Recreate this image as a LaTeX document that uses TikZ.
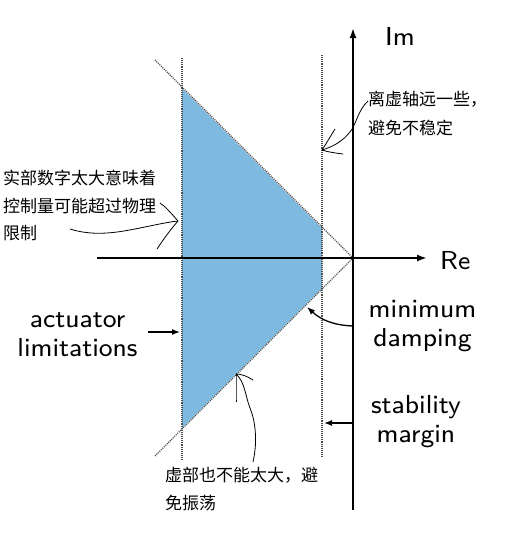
\documentclass[tikz,border=0pt]{standalone}
\usepackage{fontspec}
\newfontfamily\cjk{Noto Sans CJK SC}
\newfontfamily\wsans{lmsans8-regular.otf}
\usetikzlibrary{arrows.meta}
\definecolor{wedge}{RGB}{126,186,223}
\begin{document}
\begin{tikzpicture}[x=1pt,y=-1pt,
  axis/.style={line width=1.8pt,-{Latex[length=10pt,width=7pt]}},
  guide/.style={line width=1.1pt,densely dotted,black!70},
  lab/.style={font=\wsans\fontsize{26}{29}\selectfont,align=center,inner sep=0pt},
  cn/.style={font=\cjk\fontsize{17}{28}\selectfont,align=left,inner sep=0pt,anchor=north west},
  pointer/.style={line width=1.3pt,-{Latex[length=8pt,width=6pt]}},
  hand/.style={line width=0.8pt,black}]
\useasboundingbox (0,0) rectangle (525,533);
% shaded region
\fill[wedge] (182,88) -- (322,228) -- (322,288) -- (182,428) -- cycle;
% guide lines
\coordinate (o) at (353,258);
\coordinate (ul) at (155,60);
\coordinate (ll) at (155,456);
\draw[guide] (ul) -- (o);
\draw[guide] (ll) -- (o);
\coordinate (l1) at (182,58);
\coordinate (l2) at (182,460);
\coordinate (r1) at (322,55);
\coordinate (r2) at (322,458);
\draw[guide] (l1) -- (l2);
\draw[guide] (r1) -- (r2);
% axes
\coordinate (xs) at (97,258);
\coordinate (xe) at (427,258);
\coordinate (ys) at (353,510);
\coordinate (ye) at (353,28);
\draw[axis] (xs) -- (xe);
\draw[axis] (ys) -- (ye);
\node[lab,anchor=base west] (re) at (440,269) {Re};
\node[lab,anchor=base west] (im) at (385,45) {Im};
% labels
\node[lab] (act) at (77.5,335) {actuator\\limitations};
\node[lab] (damp) at (422.5,326) {minimum\\damping};
\node[lab] (stab) at (416,422) {stability\\margin};
\coordinate (actA) at (148,332);
\coordinate (actB) at (180,332);
\draw[pointer] (actA) -- (actB);
\coordinate (dampA) at (353,326);
\coordinate (dampB) at (307,307);
\draw[pointer] (dampA) to[bend left=20] (dampB);
\coordinate (stabA) at (353,423);
\coordinate (stabB) at (324,423);
\draw[pointer] (stabA) -- (stabB);
% chinese notes
\node[cn] (n1) at (3,170) {实部数字太大意味着\\[-0.5pt]控制量可能超过物理\\[-0.5pt]限制};
\node[cn] (n2) at (368,91) {离虚轴远一些，\\[1pt]避免不稳定};
\node[cn] (n3) at (165,467) {虚部也不能太大，避\\免振荡};
% hand-drawn pointers
\coordinate (h1) at (178,221);
\draw[hand] (70,229) .. controls (95,237) and (120,232) .. (140,228) .. controls (155,225) and (168,222) .. (h1);
\draw[hand] (160,203) .. controls (166,207) and (170,212) .. (h1);
\draw[hand] (157,249) .. controls (163,240) and (170,230) .. (h1);
\coordinate (h2) at (322,150);
\draw[hand] (368,101) .. controls (358,110) and (356,125) .. (350,132) .. controls (342,142) and (332,147) .. (h2);
\draw[hand] (335,129) .. controls (330,137) and (326,144) .. (h2);
\draw[hand] (343,154) .. controls (335,153) and (328,152) .. (h2);
\coordinate (h3) at (236,374);
\draw[hand] (253,462) .. controls (258,440) and (255,420) .. (250,408) .. controls (245,395) and (245,382) .. (h3);
\draw[hand] (236,402) .. controls (236,392) and (236,382) .. (h3);
\draw[hand] (253,380) .. controls (247,376) and (241,374) .. (h3);
\end{tikzpicture}
\end{document}
